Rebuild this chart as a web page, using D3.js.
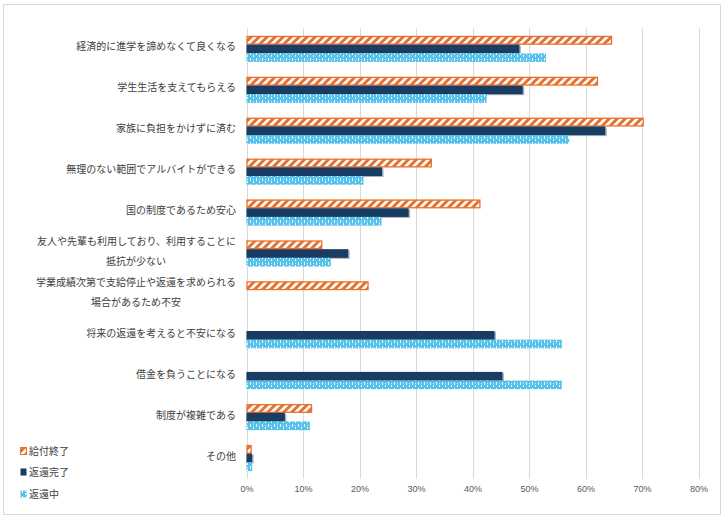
<!DOCTYPE html>
<html><head><meta charset="utf-8">
<script src="https://cdn.jsdelivr.net/npm/d3@7"></script>
<style>body{margin:0;background:#fff}svg{display:block}</style>
</head><body>
<svg id="c" width="727" height="520"></svg>
<script>
const categories = [
  "経済的に進学を諦めなくて良くなる",
  "学生生活を支えてもらえる",
  "家族に負担をかけずに済む",
  "無理のない範囲でアルバイトができる",
  "国の制度であるため安心",
  "友人や先輩も利用しており、利用することに\n抵抗が少ない",
  "学業成績次第で支給停止や返還を求められる\n場合があるため不安",
  "将来の返還を考えると不安になる",
  "借金を負うことになる",
  "制度が複雑である",
  "その他"
];
const seriesNames = ["給付終了", "返還完了", "返還中"];
const kyufuShuryo = [64.7, 62.2, 70.3, 32.8, 41.4, 13.4, 21.6, 0, 0, 11.6, 0.9];
const hensaiKanryo = [48.3, 48.9, 63.5, 24.0, 28.7, 18.0, 0, 43.9, 45.3, 6.8, 1.0];
const hensaiChu = [53.0, 42.5, 57.1, 20.7, 23.9, 14.9, 0, 55.8, 55.8, 11.2, 1.0];
const xTicks = [0, 10, 20, 30, 40, 50, 60, 70, 80];

const seriesValues = [kyufuShuryo, hensaiKanryo, hensaiChu];
const svg = d3.select("#c");
const FONT = "'Noto Sans CJK JP', 'Noto Sans', sans-serif";

// patterns
const defs = svg.append("defs");
const stripe = defs.append("pattern").attr("id", "stripe").attr("patternUnits", "userSpaceOnUse")
  .attr("width", 8).attr("height", 8);
stripe.append("rect").attr("width", 8).attr("height", 8).attr("fill", "#fff");
stripe.append("path").attr("d", "M-2,2 L2,-2 M0,8 L8,0 M6,10 L10,6")
  .attr("stroke", "#E8702D").attr("stroke-width", 3);
const dots = defs.append("pattern").attr("id", "dots").attr("patternUnits", "userSpaceOnUse")
  .attr("width", 6).attr("height", 6);
dots.append("rect").attr("width", 6).attr("height", 6).attr("fill", "#56C1EA");
dots.append("rect").attr("x", 1).attr("y", 1).attr("width", 1).attr("height", 2).attr("fill", "#fff").attr("opacity", 0.9);
dots.append("rect").attr("x", 4).attr("y", 0).attr("width", 1).attr("height", 1).attr("fill", "#fff").attr("opacity", 0.9);
dots.append("rect").attr("x", 4).attr("y", 4).attr("width", 1).attr("height", 2).attr("fill", "#fff").attr("opacity", 0.9);
dots.append("rect").attr("x", 1).attr("y", 5).attr("width", 1).attr("height", 1).attr("fill", "#fff").attr("opacity", 0.7);

const fills = ["url(#stripe)", "#193C63", "url(#dots)"];
const strokes = ["#E8702D", "none", "none"];

// frame
svg.append("rect").attr("x", 3.5).attr("y", 4.5).attr("width", 717).attr("height", 510)
  .attr("fill", "#fff").attr("stroke", "#d9d9d9");

const x = d3.scaleLinear().domain([0, 80]).range([246.5, 698.5]);
const y = d3.scaleBand().domain(categories).range([28.5, 478.5]).paddingInner(0.364).paddingOuter(0.182);
const ys = d3.scaleBand().domain(seriesNames).range([0, y.bandwidth()]);

// gridlines
svg.append("g").selectAll("line").data(xTicks).join("line")
  .attr("x1", d => Math.round(x(d)) + 0.5).attr("x2", d => Math.round(x(d)) + 0.5)
  .attr("y1", 28).attr("y2", 479)
  .attr("stroke", "#d9d9d9").attr("stroke-width", 1);

// axis labels
const ax = svg.append("g").attr("transform", "translate(0,483)")
  .call(d3.axisBottom(x).tickValues(xTicks).tickFormat(d => d + "%").tickSize(0));
ax.select(".domain").remove();
ax.selectAll("text").attr("font-family", "'Liberation Sans', Arial, sans-serif")
  .attr("font-size", 9).attr("fill", "#595959").attr("dy", "0.71em");

// bars
seriesNames.forEach((s, si) => {
  const g = svg.append("g");
  const data = categories.map((c, i) => ({c, v: seriesValues[si][i]})).filter(d => d.v > 0);
  if (si === 1) {
    g.selectAll("rect.sh").data(data).join("rect")
      .attr("x", x(0)).attr("y", d => y(d.c) + ys(s) + 1)
      .attr("width", d => x(d.v) - x(0) + 1.5).attr("height", ys.bandwidth())
      .attr("fill", "#a9b4c0");
  }
  g.selectAll("rect.b").data(data).join("rect")
    .attr("x", x(0) + (si === 0 ? 0.5 : 0)).attr("y", d => y(d.c) + ys(s) + (si === 0 ? 0.5 : 0))
    .attr("width", d => x(d.v) - x(0) - (si === 0 ? 1 : 0))
    .attr("height", ys.bandwidth() - (si === 0 ? 1 : 0))
    .attr("fill", fills[si]).attr("stroke", strokes[si]).attr("stroke-width", si === 0 ? 1.3 : 0);
});

// category labels
const lab = svg.append("g");
categories.forEach(c => {
  const lines = c.split("\n");
  const cy = y(c) + y.bandwidth() / 2;
  lines.forEach((ln, li) => {
    const off = (li - (lines.length - 1) / 2) * 20;
    lab.append("text").attr("x", lines.length > 1 ? 236 - (li === 1 ? 0 : 0) : 236)
      .attr("y", cy + off - 2).attr("dy", "0.35em")
      .attr("text-anchor", lines.length > 1 && li === 1 ? "middle" : "end")
      .attr("font-family", FONT).attr("font-size", 10).attr("fill", "#404040")
      .text(ln);
  });
});
// center second lines under first lines
lab.selectAll("text").each(function() {
  const t = d3.select(this);
  if (t.attr("text-anchor") === "middle") {
    t.attr("x", 236 - 200 / 2 + 0);
  }
});

// legend
const leg = svg.append("g");
const legY = [451, 472, 494];
seriesNames.forEach((s, i) => {
  leg.append("rect").attr("x", 20.5).attr("y", legY[i] - 3.5).attr("width", 6).attr("height", 7)
    .attr("fill", fills[i]).attr("stroke", strokes[i]).attr("stroke-width", i === 0 ? 1 : 0);
  leg.append("text").attr("x", 29).attr("y", legY[i]).attr("dy", "0.35em")
    .attr("font-family", FONT).attr("font-size", 10).attr("fill", "#404040").text(s);
});
</script>
</body></html>
